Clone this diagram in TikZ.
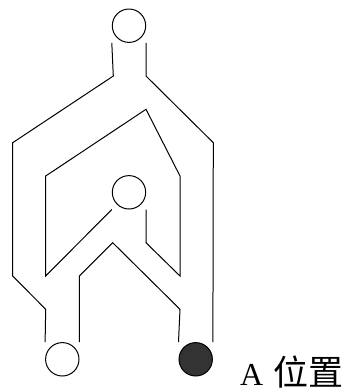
\documentclass[tikz,border=0pt]{standalone}
\usepackage{fontspec}
\setmainfont{Liberation Serif}
\newfontfamily\cjk{Noto Sans CJK SC}
\usetikzlibrary{positioning}
\definecolor{Ink}{HTML}{000000}
\definecolor{DarkFill}{HTML}{333333}
\tikzset{
  hole/.style={
    circle, draw=Ink, line width=1pt,
    minimum size=33.4pt, inner sep=0pt
  },
  filled/.style={hole, fill=DarkFill},
  wire/.style={line width=1pt, draw=Ink, line join=miter},
}
\begin{document}
\begin{tikzpicture}[x=1pt, y=-1pt]
\useasboundingbox (0,0) rectangle (349,392);

% Circles
\node[hole] at (129,25.7) (top) {};
\node[hole] at (129,192.3) (mid) {};
\node[hole] at (62.3,359.3) (bl) {};
\node[filled] at (195.7,359.3) (br) {};

% Outer wires
\draw[wire] (top.south -| top.west) -- (113.3,76) -- (12.7,142.7) -- (12.7,276)
  -- (45.7,309.3) -- (bl.north -| bl.west);
\draw[wire] (top.south -| top.east) -- (146,76) -- (213.3,142.7)
  -- (br.north -| br.east);

% Loop round the middle circle
\draw[wire] (mid.south -| mid.east) -- (146,242.7) -- (180,276) -- (180,176)
  -- (146,109.3) -- (45.7,176) -- (45.7,276) -- (mid.south -| mid.west);

% Inner wire
\draw[wire] (bl.north -| bl.east) -- (79.3,276) -- (112.7,242.7) -- (180,309.3)
  -- (br.north -| br.west);

% Label
\node[anchor=base west, inner sep=0pt, font=\fontsize{32}{32}\selectfont]
  at (240,385) (pos) {A\hspace{10pt}{\cjk\fontsize{35}{35}\selectfont 位置}};

\end{tikzpicture}
\end{document}
